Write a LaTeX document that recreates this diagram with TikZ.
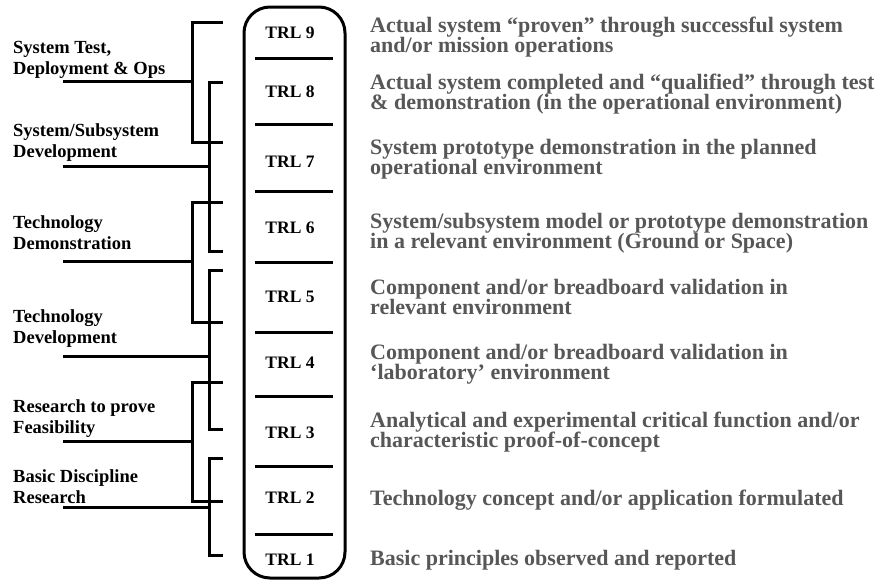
\documentclass[tikz,border=0pt]{standalone}
\usepackage{fontspec}
\setmainfont{Liberation Serif}
\definecolor{descgray}{HTML}{575757}
\newcommand\mytightlines{\lineskiplimit=-20pt\relax\lineskip=0pt\relax}
\begin{document}
\begin{tikzpicture}[x=1pt,y=-1pt,
  frame/.style={line width=3pt, rounded corners=26pt},
  sepline/.style={line width=3pt},
  brk/.style={line width=3pt, line join=miter},
  trl/.style={font=\bfseries\fontsize{17.5}{20}\selectfont, inner sep=0pt},
  desc/.style={font={\bfseries\fontsize{22}{20}\selectfont\mytightlines}, text=descgray, align=left, anchor=base west, inner sep=0pt},
  phase/.style={font={\bfseries\fontsize{18.5}{21}\selectfont\mytightlines}, align=left, anchor=base west, inner sep=0pt}]
\useasboundingbox (0,0) rectangle (881,581);
% column
\draw[frame] (244,7) rectangle (345,578);
\foreach \yy in {58,124,191,262,332,396,466,534}
  \draw[sepline] (255,\yy) -- (333,\yy);
% TRL labels
\node[trl] (t9) at (290,33) {TRL 9};
\node[trl] (t8) at (290,92) {TRL 8};
\node[trl] (t7) at (290,162) {TRL 7};
\node[trl] (t6) at (290,228) {TRL 6};
\node[trl] (t5) at (290,297) {TRL 5};
\node[trl] (t4) at (290,363) {TRL 4};
\node[trl] (t3) at (290,433) {TRL 3};
\node[trl] (t2) at (290,498) {TRL 2};
\node[trl] (t1) at (290,560) {TRL 1};
% descriptions (base anchor = baseline of last line)
\node[desc] (d9) at (370,52) {Actual system “proven” through successful system\\and/or mission operations};
\node[desc] (d8) at (370,109) {Actual system completed and “qualified” through test\\\& demonstration (in the operational environment)};
\node[desc] (d7) at (370,174) {System prototype demonstration in the planned\\operational environment};
\node[desc] (d6) at (370,248) {System/subsystem model or prototype demonstration\\in a relevant environment (Ground or Space)};
\node[desc] (d5) at (370,314) {Component and/or breadboard validation in\\relevant environment};
\node[desc] (d4) at (370,379) {Component and/or breadboard validation in\\‘laboratory’ environment};
\node[desc] (d3) at (370,447) {Analytical and experimental critical function and/or\\characteristic proof-of-concept};
\node[desc] (d2) at (370,505) {Technology concept and/or application formulated};
\node[desc] (d1) at (370,565) {Basic principles observed and reported};
% phase labels
\node[phase] (pA) at (13,74) {System Test,\\Deployment \& Ops};
\node[phase] (pB) at (13,157) {System/Subsystem\\Development};
\node[phase] (pC) at (13,249) {Technology\\Demonstration};
\node[phase] (pD) at (13,343) {Technology\\Development};
\node[phase] (pE) at (13,433) {Research to prove\\Feasibility};
\node[phase] (pF) at (13,503) {Basic Discipline\\Research};
% stem coordinates
\coordinate (sA) at (63,81);
\coordinate (sB) at (63,166);
\coordinate (sC) at (63,261);
\coordinate (sD) at (63,356);
\coordinate (sE) at (63,441);
\coordinate (sF) at (63,507);
% brackets
\draw[brk] (223,22) -- (192,22) -- (192,142) -- (223,142);
\draw[brk] (sA) -- (192,81);
\draw[brk] (223,82) -- (209,82) -- (209,251) -- (223,251);
\draw[brk] (sB) -- (209,166);
\draw[brk] (223,202) -- (192,202) -- (192,322) -- (223,322);
\draw[brk] (sC) -- (192,261);
\draw[brk] (223,270) -- (209,270) -- (209,429) -- (223,429);
\draw[brk] (sD) -- (209,356);
\draw[brk] (223,382) -- (192,382) -- (192,501) -- (223,501);
\draw[brk] (sE) -- (192,441);
\draw[brk] (223,458) -- (209,458) -- (209,555) -- (223,555);
\draw[brk] (sF) -- (209,507);
\end{tikzpicture}
\end{document}
